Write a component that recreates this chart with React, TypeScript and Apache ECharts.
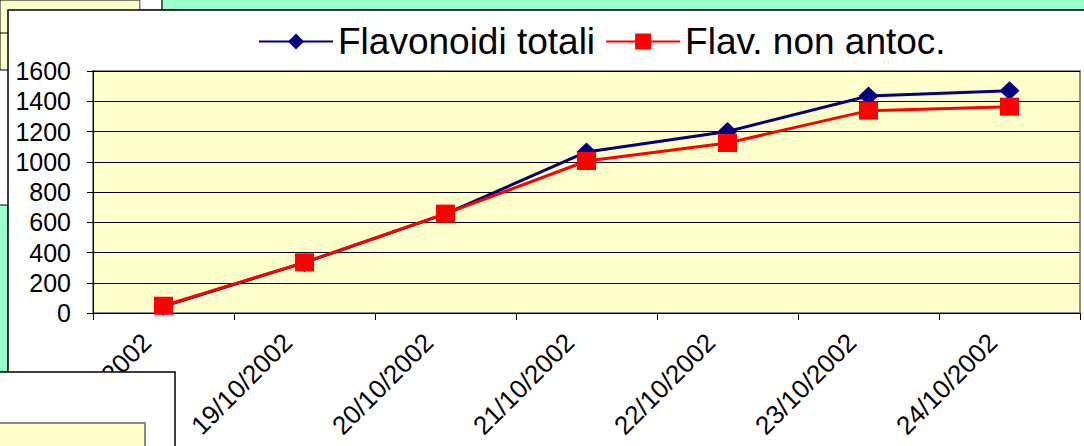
import React, { useEffect, useRef } from "react";
import * as echarts from "echarts";

const categories = [
  "18/10/2002",
  "19/10/2002",
  "20/10/2002",
  "21/10/2002",
  "22/10/2002",
  "23/10/2002",
  "24/10/2002",
];
const flavonoidiTotali = [45, 333, 655, 1065, 1200, 1435, 1470];
const flavNonAntoc = [48, 335, 657, 1005, 1124, 1338, 1364];
const yTicks = { min: 0, max: 1600, interval: 200 };

const FONT = "'Liberation Sans', Arial, sans-serif";

export default function App() {
  const ref = useRef<HTMLDivElement>(null);
  useEffect(() => {
    if (!ref.current) return;
    const chart = echarts.init(ref.current, null, { renderer: "svg" });
    const option: any = {
      animation: false,
      backgroundColor: "#ffffff",
      textStyle: { fontFamily: FONT },
      legend: {
        left: 253,
        top: 18,
        itemWidth: 74,
        itemHeight: 20,
        itemGap: 10,
        textStyle: { fontSize: 37, color: "#000", fontFamily: FONT },
        data: ["Flavonoidi totali", "Flav. non antoc."],
      },
      grid: {
        left: 93,
        right: 4,
        top: 71,
        bottom: 133,
        outerBoundsMode: "none",
        containLabel: false,
        show: true,
        backgroundColor: "#FFFFCC",
        borderColor: "#8c8c8c",
        borderWidth: 2,
      },
      xAxis: {
        type: "category",
        data: categories,
        boundaryGap: true,
        axisLine: { lineStyle: { color: "#000", width: 1 } },
        axisTick: { show: true, interval: 0, length: 7, alignWithLabel: false, lineStyle: { color: "#000" } },
        axisLabel: {
          interval: 0,
          rotate: 45,
          margin: 8,
          padding: [0, 24, 0, 0],
          fontSize: 26,
          color: "#000",
          fontFamily: FONT,
        },
        splitLine: { show: false },
      },
      yAxis: {
        type: "value",
        min: yTicks.min,
        max: yTicks.max,
        interval: yTicks.interval,
        axisLine: { show: true, lineStyle: { color: "#000", width: 1 } },
        axisTick: { show: true, length: 6, lineStyle: { color: "#000" } },
        axisLabel: {
          fontSize: 25,
          color: "#000",
          margin: 22,
          fontFamily: FONT,
          formatter: (v: number) => String(v),
        },
        splitLine: { show: true, lineStyle: { color: "#000", width: 1 } },
      },
      series: [
        {
          name: "Flavonoidi totali",
          type: "line",
          data: flavonoidiTotali,
          symbol: "diamond",
          symbolSize: [20, 19],
          lineStyle: { color: "#000080", width: 3 },
          itemStyle: { color: "#000080" },
          z: 3,
        },
        {
          name: "Flav. non antoc.",
          type: "line",
          data: flavNonAntoc,
          symbol: "rect",
          symbolSize: [19, 18],
          lineStyle: { color: "#FF0000", width: 3 },
          itemStyle: { color: "#FF0000" },
          z: 4,
        },
      ],
      graphic: [
        { type: "rect", z: -100, silent: true, shape: { x: 0, y: 0, width: 140, height: 70 }, style: { fill: "#FFFFCC", stroke: "#000", lineWidth: 1 } },
        { type: "line", z: -99, silent: true, shape: { x1: 0, y1: 33, x2: 8, y2: 33 }, style: { stroke: "#000", lineWidth: 1 } },
        { type: "rect", z: -100, silent: true, shape: { x: 140, y: -2, width: 22, height: 12 }, style: { fill: "#ffffff", stroke: "#808080", lineWidth: 1 } },
        { type: "rect", z: -100, silent: true, shape: { x: 162, y: -2, width: 930, height: 12 }, style: { fill: "#99FFCC", stroke: "#333", lineWidth: 1.5 } },
        { type: "rect", z: -100, silent: true, shape: { x: -2, y: 205, width: 10, height: 167 }, style: { fill: "#99FFCC", stroke: "#000", lineWidth: 1 } },
        { type: "rect", z: -98, silent: true, shape: { x: 8, y: 10, width: 1090, height: 450 }, style: { fill: "#ffffff", stroke: "#000", lineWidth: 1.5 } },
        { type: "rect", z: 100, silent: true, shape: { x: -2, y: 372, width: 177, height: 80 }, style: { fill: "#ffffff", stroke: "#000", lineWidth: 1.5 } },
        { type: "rect", z: 101, silent: true, shape: { x: -2, y: 423, width: 147, height: 30 }, style: { fill: "#FFFFCC", stroke: "#8c8c8c", lineWidth: 2 } },
      ],
    };
    chart.setOption(option);
    return () => chart.dispose();
  }, []);
  return (
    <div
      ref={ref}
      style={{ position: "fixed", left: 0, top: 0, width: 1084, height: 446 }}
    />
  );
}
